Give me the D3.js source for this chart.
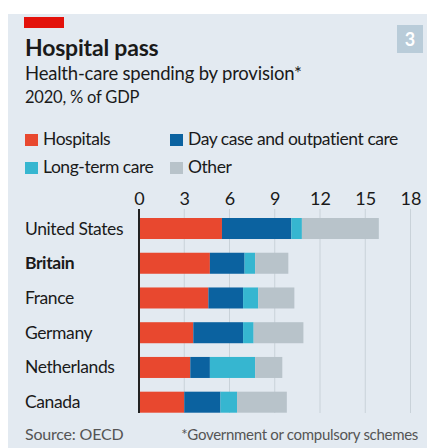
<!DOCTYPE html>
<html>
<head>
<meta charset="utf-8">
<script src="https://cdn.jsdelivr.net/npm/d3@7"></script>
<style>
  html, body { margin: 0; padding: 0; background: #ffffff; }
  svg { display: block; }
  text { font-family: Lato, "Noto Sans", sans-serif; fill: #1a1a1a; }
</style>
</head>
<body>
<svg id="chart" width="427" height="448"></svg>
<script>
const countries = ["United States", "Britain", "France", "Germany", "Netherlands", "Canada"];
const seriesNames = ["Hospitals", "Day case and outpatient care", "Long-term care", "Other"];
const hospitals = [5.5, 4.7, 4.6, 3.6, 3.4, 3.0];
const dayCase   = [4.6, 2.3, 2.3, 3.3, 1.3, 2.4];
const longTerm  = [0.7, 0.7, 1.0, 0.7, 3.0, 1.1];
const other     = [5.1, 2.2, 2.4, 3.3, 1.8, 3.3];
const tickValues = [0, 3, 6, 9, 12, 15, 18];
const colors = ["#e8482f", "#0b62a0", "#36b6d0", "#b8c3ca"];

const svg = d3.select("#chart");

// background panel
svg.append("rect").attr("x", 8).attr("y", 14).attr("width", 419).attr("height", 434).attr("fill", "#e3eaf1");
// red tag
svg.append("rect").attr("x", 24).attr("y", 17).attr("width", 40).attr("height", 11).attr("fill", "#e3120b");
// badge
svg.append("rect").attr("x", 397).attr("y", 25).attr("width", 26).attr("height", 28).attr("fill", "#b9ccd9");
svg.append("text").attr("x", 410).attr("y", 46).attr("text-anchor", "middle")
  .style("font-weight", "bold").style("font-size", "18px").style("fill", "#ffffff").text("3");

// titles
svg.append("text").attr("x", 25).attr("y", 56).style("font-weight", "bold").style("font-size", "23px").style("letter-spacing", "-0.2px").text("Hospital pass");
svg.append("text").attr("x", 25).attr("y", 80).style("font-size", "18.5px").style("letter-spacing", "-0.2px").text("Health-care spending by provision*");
svg.append("text").attr("x", 25).attr("y", 103).style("font-size", "16.5px").style("letter-spacing", "-0.2px").text("2020, % of GDP");

// legend
const legendPos = [[25, 145], [170, 145], [25, 173], [170, 173]];
seriesNames.forEach((name, i) => {
  const [lx, ly] = legendPos[i];
  svg.append("rect").attr("x", lx).attr("y", ly - 11).attr("width", 13).attr("height", 12).attr("fill", colors[i]);
  svg.append("text").attr("x", lx + 18).attr("y", ly).style("font-size", "17.5px").style("letter-spacing", "-0.45px").text(name);
});

// scales
const x = d3.scaleLinear().domain([0, 18]).range([139, 410.5]);
const y = d3.scaleBand().domain(countries).range([218, 412.7]).paddingInner(0.395).paddingOuter(0);

// gridlines
svg.append("g").selectAll("line").data(tickValues.filter(d => d > 0)).join("line")
  .attr("x1", d => x(d)).attr("x2", d => x(d)).attr("y1", 209).attr("y2", 413)
  .attr("stroke", "#c9d2d9").attr("stroke-width", 1);

// axis tick labels
const axis = d3.axisTop(x).tickValues(tickValues).tickSize(0).tickPadding(0).tickFormat(d3.format("d"));
const ag = svg.append("g").attr("transform", "translate(0,205)").call(axis);
ag.select(".domain").remove();
ag.selectAll("text").attr("dy", 0).style("font-size", "18px").style("font-family", "Lato, 'Noto Sans', sans-serif").attr("fill", "#1a1a1a");

// stacked bars
const rows = countries.map((c, i) => ({ country: c, h: hospitals[i], d: dayCase[i], l: longTerm[i], o: other[i] }));
const stack = d3.stack().keys(["h", "d", "l", "o"]);
const stacked = stack(rows);
svg.append("g").selectAll("g").data(stacked).join("g")
  .attr("fill", (d, i) => colors[i])
  .selectAll("rect").data(d => d).join("rect")
  .attr("x", d => x(d[0])).attr("width", d => x(d[1]) - x(d[0]))
  .attr("y", d => y(d.data.country)).attr("height", y.bandwidth());

// zero line
svg.append("line").attr("x1", x(0)).attr("x2", x(0)).attr("y1", 209).attr("y2", 413)
  .attr("stroke", "#222").attr("stroke-width", 2);

// country labels
svg.append("g").selectAll("text").data(countries).join("text")
  .attr("x", 25).attr("y", d => y(d) + y.bandwidth() / 2 + 6)
  .style("font-size", "17.5px").style("letter-spacing", "-0.4px")
  .style("font-weight", d => d === "Britain" ? "bold" : "normal")
  .text(d => d);

// footer
svg.append("text").attr("x", 25).attr("y", 440).style("font-size", "16px").style("letter-spacing", "-0.2px").style("fill", "#555").text("Source: OECD");
svg.append("text").attr("x", 418).attr("y", 440).attr("text-anchor", "end").style("font-size", "15px").style("letter-spacing", "-0.3px").style("fill", "#555").text("*Government or compulsory schemes");
</script>
</body>
</html>
